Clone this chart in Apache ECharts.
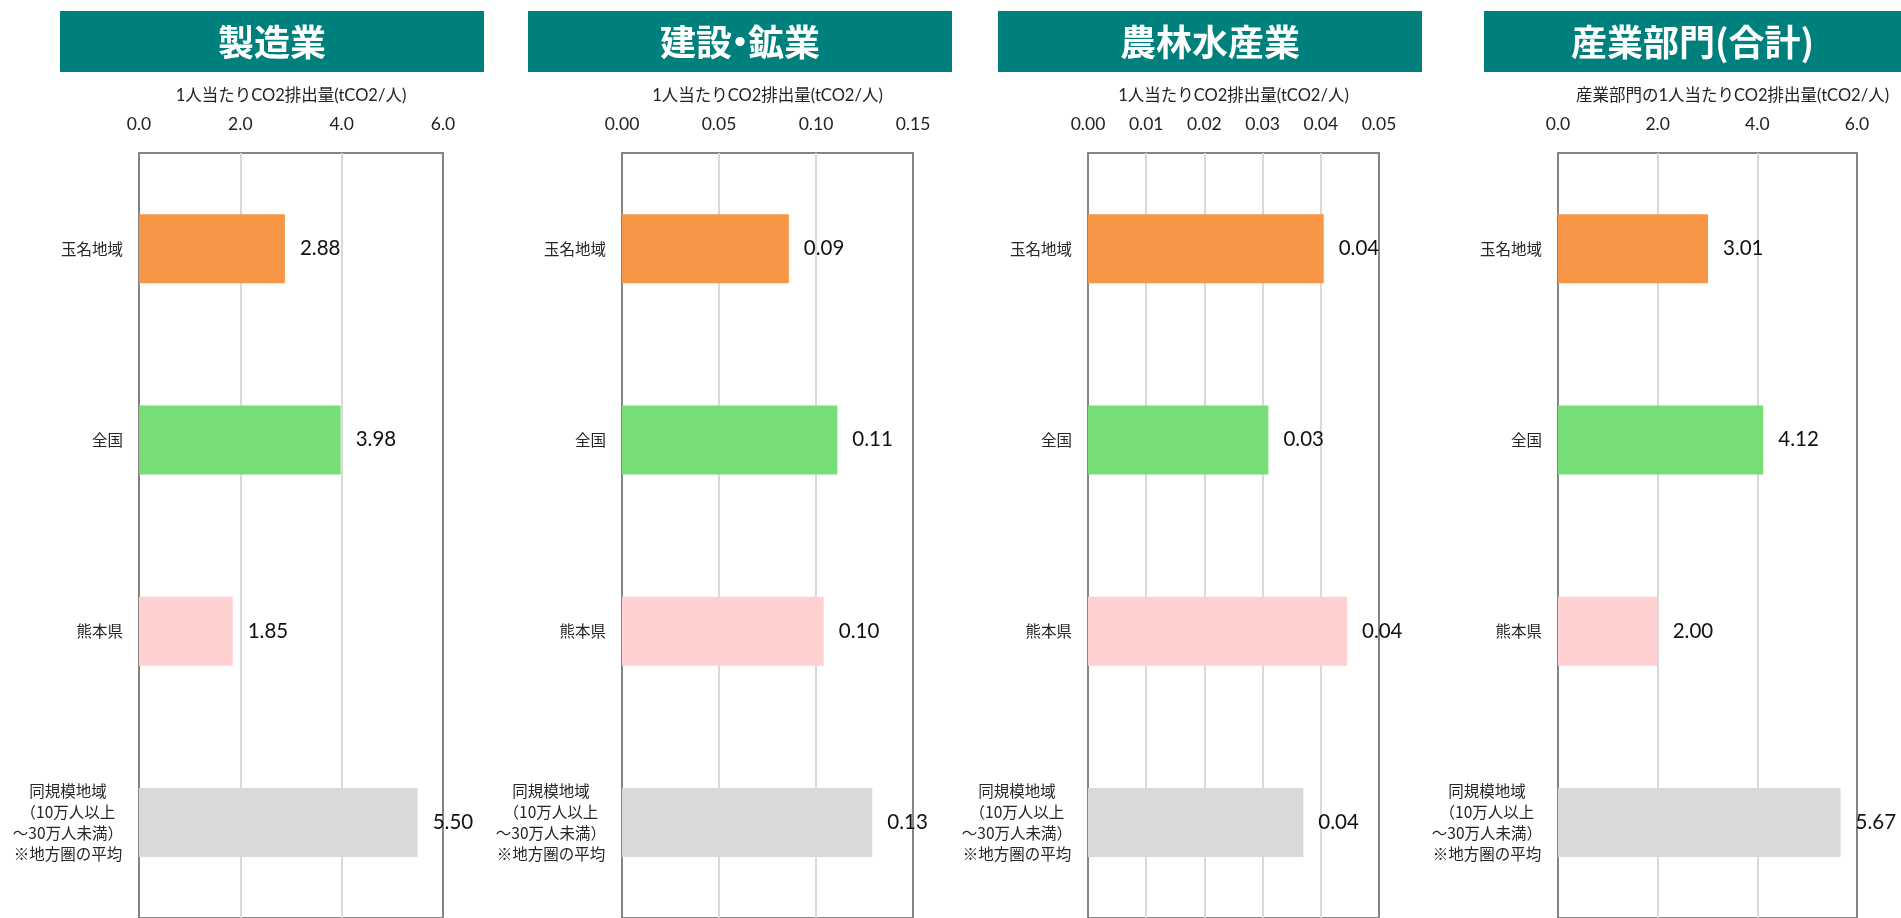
<!DOCTYPE html>
<html>
<head>
<meta charset="utf-8">
<script src="https://cdn.jsdelivr.net/npm/echarts@6/dist/echarts.min.js"></script>
<style>
html,body{margin:0;padding:0;background:#fff;}
#c{width:1901px;height:918px;}
</style>
</head>
<body>
<div id="c"></div>
<script>
// ---- data ----
const categories = ['玉名地域', '全国', '熊本県', '同規模地域\n（10万人以上\n～30万人未満）\n※地方圏の平均'];
const panelTitles = ['製造業', '建設・鉱業', '農林水産業', '産業部門(合計)'];
const axisNames = ['1人当たりCO2排出量(tCO2/人)', '1人当たりCO2排出量(tCO2/人)', '1人当たりCO2排出量(tCO2/人)', '産業部門の1人当たりCO2排出量(tCO2/人)'];
const manufacturing = [2.88, 3.98, 1.85, 5.50];
const construction = [0.086, 0.111, 0.104, 0.129];
const agriculture = [0.0405, 0.031, 0.0445, 0.037];
const industryTotal = [3.01, 4.12, 2.00, 5.67];
const axisMax = [6, 0.15, 0.05, 6];
const axisStep = [2, 0.05, 0.01, 2];
const tickDecimals = [1, 2, 2, 1];
const barColors = ['#F79646', '#77DD77', '#FFD0D0', '#D9D9D9'];

const seriesValues = [manufacturing, construction, agriculture, industryTotal];

// ---- layout ----
const FONT = 'Lato, "Noto Sans CJK JP", sans-serif';
const JFONT = '"Noto Sans CJK JP", sans-serif';
const TFONT = 'bold 36px "Noto Sans CJK JP", sans-serif';
const plots = [[139, 443], [622, 913], [1088, 1379], [1558, 1857]];
const titleBars = [[60, 484], [528, 952], [998, 1422], [1484, 1901]];
const TOP = 153, HEIGHT = 768;

const grids = [], xAxes = [], yAxes = [], series = [], graphics = [];
for (let i = 0; i < 4; i++) {
  grids.push({
    left: plots[i][0], width: plots[i][1] - plots[i][0], top: TOP, height: HEIGHT,
    show: true, borderColor: '#858585', borderWidth: 2, backgroundColor: 'transparent'
  });
  const dec = tickDecimals[i];
  xAxes.push({
    type: 'value', gridIndex: i, position: 'top', min: 0, max: axisMax[i], interval: axisStep[i],
    name: axisNames[i], nameLocation: 'middle', nameGap: 49,
    nameTextStyle: { fontSize: 16.5, color: '#222', fontFamily: FONT, padding: i === 3 ? [0, 0, 0, 50] : 0 },
    axisLine: { show: false }, axisTick: { show: false },
    axisLabel: { margin: 20, fontSize: 17.5, color: '#222', fontFamily: FONT, formatter: v => v.toFixed(dec) },
    splitLine: { show: true, showMinLine: false, showMaxLine: false, lineStyle: { color: '#D9D9D9', width: 2 } }
  });
  yAxes.push({
    type: 'category', gridIndex: i, inverse: true, data: categories,
    axisLine: { show: false }, axisTick: { show: false },
    axisLabel: {
      margin: 16, fontSize: 15.5, color: '#262626', fontFamily: JFONT, lineHeight: 21,
      formatter: v => v.split('\n').map(s => '{c|' + s + '}').join('\n'),
      rich: { c: { align: 'center', fontSize: 15.5, lineHeight: 21, color: '#262626', fontFamily: JFONT } }
    },
    splitLine: { show: false }
  });
  series.push({
    type: 'bar', xAxisIndex: i, yAxisIndex: i, barWidth: 69,
    data: seriesValues[i].map((v, k) => ({ value: v, itemStyle: { color: barColors[k] } })),
    label: {
      show: true, position: 'right', distance: 15, fontSize: 20.5, color: '#111', fontFamily: FONT,
      formatter: p => p.value.toFixed(2)
    },
    silent: true
  });
  const tb = titleBars[i];
  graphics.push({
    type: 'rect', left: tb[0], top: 11, shape: { width: tb[1] - tb[0], height: 61 },
    style: { fill: '#00807D' }, silent: true
  });
  const parts = panelTitles[i].split('・');
  const richText = parts.map(p => '{t|' + p + '}').join('{d|・}');
  graphics.push({
    type: 'text', x: (tb[0] + tb[1]) / 2, y: 42,
    style: {
      text: richText, fill: '#fff', font: TFONT, align: 'center', verticalAlign: 'middle',
      rich: {
        t: { font: TFONT, fill: '#fff' },
        d: { font: TFONT, fill: '#fff', width: 16, align: 'center' }
      }
    },
    silent: true
  });
}

const chart = echarts.init(document.getElementById('c'));
chart.setOption({
  animation: false,
  grid: grids, xAxis: xAxes, yAxis: yAxes, series: series, graphic: graphics
});
</script>
</body>
</html>
